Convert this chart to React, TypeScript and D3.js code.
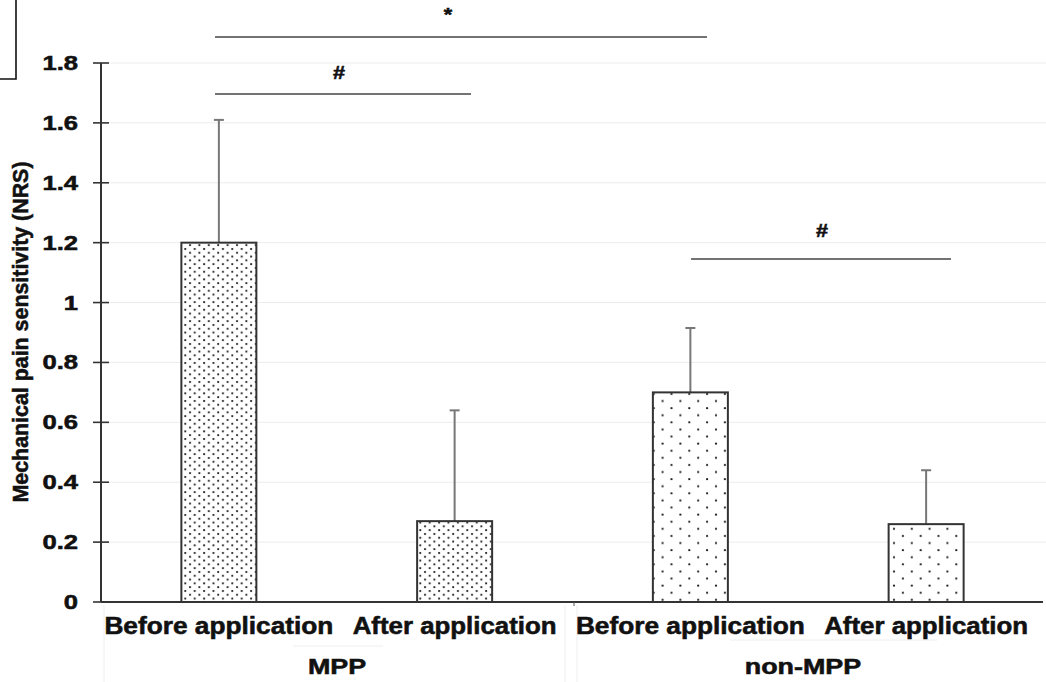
import React from "react";
import * as d3 from "d3";

const categories = ["Before application", "After application", "Before application ", "After application "];
const groups = ["MPP", "non-MPP"];
const means = [1.2, 0.27, 0.7, 0.26];
const errUpper = [1.61, 0.64, 0.915, 0.44];
const yTicks = [0, 0.2, 0.4, 0.6, 0.8, 1, 1.2, 1.4, 1.6, 1.8];
const patterns = ["dense", "dense", "sparse", "sparse"];

const W = 1046;
const H = 682;
const left = 101;
const right = 1044;
const top = 63;
const bottom = 602;

const FONT = "'Liberation Sans', Arial, sans-serif";

export default function App() {
  const x = d3.scaleBand<string>().domain(categories).range([left, right]).padding(0);
  const y = d3.scaleLinear().domain([0, 1.8]).range([bottom, top]);
  const barW = 75;

  const fmt = (v: number) => (v === 0 || v === 1 ? String(v) : d3.format(".1f")(v));

  const sigs = [
    { label: "*", tx: 448, ty: 21 },
    { label: "#", tx: 339, ty: 79 },
    { label: "#", tx: 822, ty: 237 },
  ];
  const lineY = [37, 94, 259];
  const lineX = [
    [215, 707],
    [215, 471],
    [691, 951],
  ];

  const bold = { fontFamily: FONT, fontWeight: "bold" as const, fill: "#111", stroke: "#111", strokeWidth: 0.55 };

  return (
    <svg width={W} height={H} style={{ position: "absolute", left: 0, top: 0, background: "#fff" }}>
      <defs>
        <pattern id="dense" patternUnits="userSpaceOnUse" width={9.4} height={7.6}>
          <rect width={9.4} height={7.6} fill="#fff" />
          <circle cx={2} cy={2} r={1.1} fill="#1a1a1a" />
          <circle cx={6.7} cy={5.8} r={1.1} fill="#1a1a1a" />
        </pattern>
        <pattern id="sparse" patternUnits="userSpaceOnUse" width={17.8} height={14.2}>
          <rect width={17.8} height={14.2} fill="#fff" />
          <circle cx={4} cy={3.5} r={1.1} fill="#1a1a1a" />
          <circle cx={12.9} cy={10.6} r={1.1} fill="#1a1a1a" />
        </pattern>
      </defs>

      {/* top-left box fragment */}
      <path d="M16,0 V79 H0" fill="none" stroke="#111" strokeWidth={1.6} />

      {/* gridlines */}
      {yTicks.slice(1).map((t) => (
        <line key={"g" + t} x1={left} x2={W} y1={y(t)} y2={y(t)} stroke="#ececec" strokeWidth={1} />
      ))}

      {/* faint table lines below axis */}
      <line x1={104} x2={104} y1={605} y2={H} stroke="#eeeeee" />
      <line x1={565} x2={565} y1={605} y2={H} stroke="#eeeeee" />
      <line x1={577} x2={577} y1={605} y2={H} stroke="#eeeeee" />
      <line x1={293} x2={383} y1={646} y2={646} stroke="#eeeeee" />
      <line x1={730} x2={937} y1={640} y2={640} stroke="#eeeeee" />

      {/* error bars */}
      {categories.map((c, i) => {
        const cx = (x(c) as number) + x.bandwidth() / 2;
        return (
          <g key={"e" + i} stroke="#777" strokeWidth={2}>
            <line x1={cx} x2={cx} y1={y(means[i])} y2={y(errUpper[i])} />
            <line x1={cx - 5} x2={cx + 5} y1={y(errUpper[i])} y2={y(errUpper[i])} />
          </g>
        );
      })}

      {/* bars */}
      {categories.map((c, i) => {
        const cx = (x(c) as number) + x.bandwidth() / 2;
        return (
          <rect
            key={"b" + i}
            x={cx - barW / 2}
            y={y(means[i])}
            width={barW}
            height={y(0) - y(means[i])}
            fill={`url(#${patterns[i]})`}
            stroke="#333"
            strokeWidth={2}
          />
        );
      })}

      {/* axes */}
      <line x1={left} x2={left} y1={top} y2={bottom} stroke="#333" strokeWidth={2} />
      <line x1={left} x2={right - 1} y1={bottom} y2={bottom} stroke="#333" strokeWidth={2} />
      <line x1={574} x2={574} y1={bottom} y2={bottom + 4} stroke="#555" strokeWidth={1} />
      {yTicks.map((t) => (
        <g key={"t" + t}>
          <line x1={93} x2={109} y1={y(t)} y2={y(t)} stroke="#333" strokeWidth={1.6} />
          <text transform={`translate(78,${y(t) + 7}) scale(1.28,1)`} textAnchor="end" fontSize={20} {...bold}>
            {fmt(t)}
          </text>
        </g>
      ))}

      {/* y label */}
      <text
        transform={`translate(28,${332}) rotate(-90)`}
        textAnchor="middle"
        fontSize={22}
        textLength={341}
        lengthAdjust="spacingAndGlyphs"
        {...bold}
      >
        Mechanical pain sensitivity (NRS)
      </text>

      {/* category labels */}
      {categories.map((c, i) => {
        const cx = (x(c) as number) + x.bandwidth() / 2;
        return (
          <text
            key={"c" + i}
            x={cx}
            y={634}
            textAnchor="middle"
            fontSize={23}
            textLength={c.trim().startsWith("Before") ? 229 : 204}
            lengthAdjust="spacingAndGlyphs"
            {...bold}
          >
            {c.trim()}
          </text>
        );
      })}

      {/* group labels */}
      {groups.map((g, i) => {
        const cx = i === 0 ? 337 : 803;
        return (
          <text key={"gr" + i} transform={`translate(${cx},674) scale(1.25,1)`} textAnchor="middle" fontSize={21.5} {...bold}>
            {g}
          </text>
        );
      })}

      {/* significance */}
      {sigs.map((s, i) => (
        <g key={"s" + i}>
          <line x1={lineX[i][0]} x2={lineX[i][1]} y1={lineY[i]} y2={lineY[i]} stroke="#444" strokeWidth={1.6} />
          <text transform={`translate(${s.tx},${s.ty}) scale(1.2,1)`} textAnchor="middle" fontSize={18} {...bold}>
            {s.label}
          </text>
        </g>
      ))}
    </svg>
  );
}
